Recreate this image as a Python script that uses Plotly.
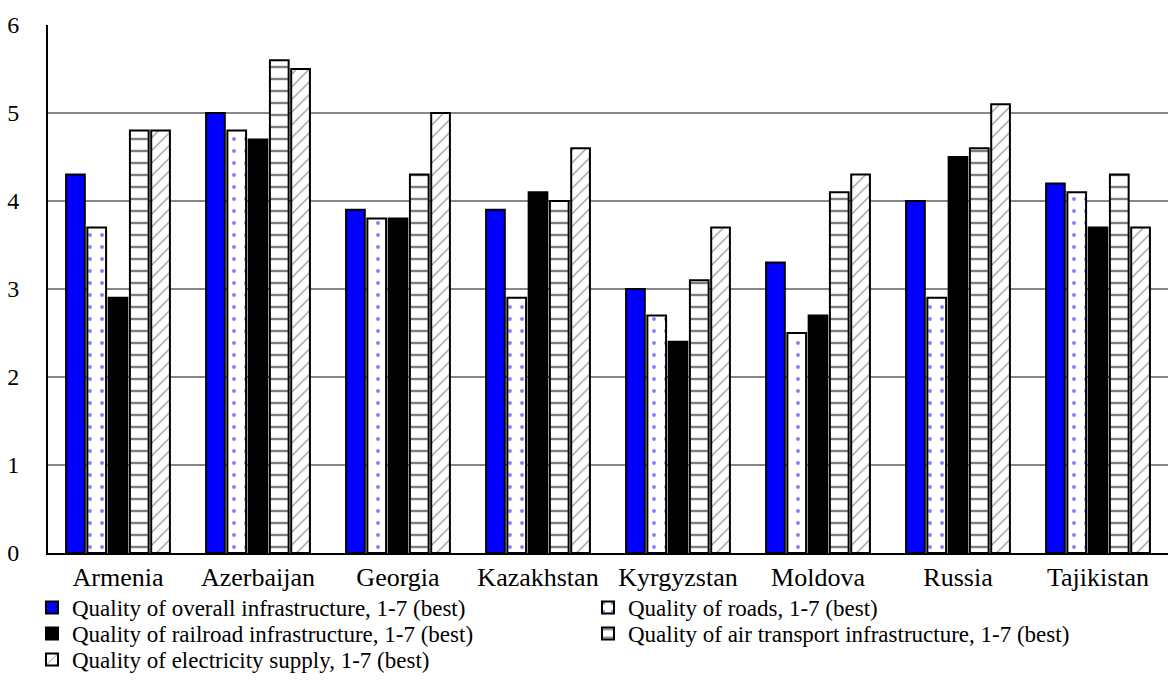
import plotly.graph_objects as go

countries = ["Armenia", "Azerbaijan", "Georgia", "Kazakhstan", "Kyrgyzstan", "Moldova", "Russia", "Tajikistan"]
overall = [4.3, 5.0, 3.9, 3.9, 3.0, 3.3, 4.0, 4.2]
roads = [3.7, 4.8, 3.8, 2.9, 2.7, 2.5, 2.9, 4.1]
railroad = [2.9, 4.7, 3.8, 4.1, 2.4, 2.7, 4.5, 3.7]
air = [4.8, 5.6, 4.3, 4.0, 3.1, 4.1, 4.6, 4.3]
electricity = [4.8, 5.5, 5.0, 4.6, 3.7, 4.3, 5.1, 3.7]

series_names = [
    "Quality of overall infrastructure, 1-7 (best)",
    "Quality of roads, 1-7 (best)",
    "Quality of railroad infrastructure, 1-7 (best)",
    "Quality of air transport infrastructure, 1-7 (best)",
    "Quality of electricity supply, 1-7 (best)",
]
y_ticks = [0, 1, 2, 3, 4, 5, 6]

FONT = "'Times New Roman', 'Liberation Serif', Times, serif"

styles = [
    dict(color="#0000ff"),
    dict(color="white", pattern=dict(shape=".", fgcolor="#0000ff", bgcolor="white", size=12, solidity=0.08)),
    dict(color="black"),
    dict(color="white", pattern=dict(shape="-", fgcolor="black", bgcolor="white", size=12, solidity=0.2)),
    dict(color="white", pattern=dict(shape="/", fgcolor="black", bgcolor="white", size=9, solidity=0.12)),
]
# legend row of each series (two entries per row, as in the reference)
legend_ids = ["legend", "legend", "legend2", "legend2", "legend3"]

fig = go.Figure()
for name, vals, st, lg in zip(series_names, [overall, roads, railroad, air, electricity], styles, legend_ids):
    fig.add_trace(go.Bar(
        x=countries, y=vals, name=name, legend=lg,
        marker=dict(line=dict(color="black", width=2), **st),
    ))

def leg(ytop):
    return dict(
        orientation="h", x=-0.0143, xanchor="left", y=ytop, yanchor="top",
        entrywidth=511, entrywidthmode="pixels", itemwidth=30,
        font=dict(family=FONT, size=23, color="black"),
        tracegroupgap=0, traceorder="normal",
        bgcolor="rgba(0,0,0,0)", borderwidth=0,
    )

fig.update_layout(
    width=1168, height=681,
    margin=dict(l=48, r=0, t=25, b=128),
    paper_bgcolor="white", plot_bgcolor="white",
    barmode="group", bargap=0.24, bargroupgap=0.12,
    font=dict(family=FONT, size=26, color="black"),
    showlegend=True,
    legend=leg(-0.0625),
    legend2=leg(-0.1117),
    legend3=leg(-0.161),
)
fig.update_xaxes(
    showline=True, linecolor="black", linewidth=2,
    ticks="", tickfont=dict(family=FONT, size=26, color="black"),
    showgrid=False, ticklabelstandoff=0, automargin=False,
)
fig.update_yaxes(
    range=[0, 6], tickvals=y_ticks,
    showline=True, linecolor="black", linewidth=2,
    showgrid=True, gridcolor="#878787", gridwidth=2,
    ticks="", tickfont=dict(family=FONT, size=24, color="black"),
    ticklabelstandoff=22, zeroline=False, automargin=False,
)

fig.write_html("out.html")
